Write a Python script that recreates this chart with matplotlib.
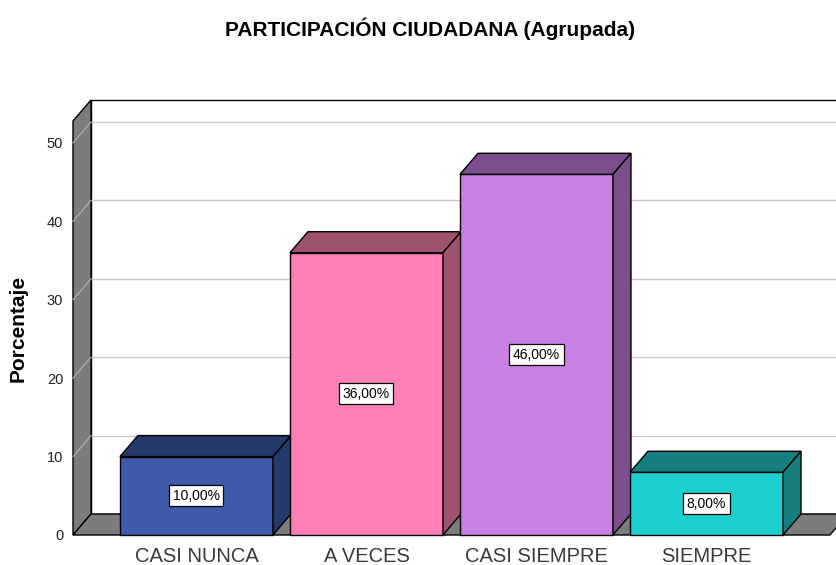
import matplotlib
matplotlib.use('Agg')
import matplotlib.pyplot as plt
from matplotlib.patches import Polygon

plt.rcParams['font.family'] = ['Liberation Sans', 'DejaVu Sans']

# Data
categories = ['CASI NUNCA', 'A VECES', 'CASI SIEMPRE', 'SIEMPRE']
percentages = [10.0, 36.0, 46.0, 8.0]
labels = ['10,00%', '36,00%', '46,00%', '8,00%']
front_colors = ['#3E5BA9', '#FF80B5', '#C880E3', '#1DCFCF']
dark_colors = ['#26396B', '#9E526E', '#7B4F8C', '#147F7E']
y_ticks = [0, 10, 20, 30, 40, 50]

# 3D look: depth offsets in data units
du = 0.106
dv = 2.68
bar_w = 0.9
x0, x1 = -0.726, 3.726
ymax = 52.8
wall_gray = '#7C7C7C'


# Draw one 3D box (front, top and side faces)
def draw_box(ax, xc, val, front, dark):
    xl, xr = xc - bar_w / 2, xc + bar_w / 2
    faces = [
        ([(xl, 0), (xr, 0), (xr, val), (xl, val)], front),
        ([(xl, val), (xr, val), (xr + du, val + dv), (xl + du, val + dv)], dark),
        ([(xr, 0), (xr + du, dv), (xr + du, val + dv), (xr, val)], dark),
    ]
    for pts, col in faces:
        ax.add_patch(Polygon(pts, closed=True, facecolor=col, edgecolor='black',
                             linewidth=1.0, zorder=5, clip_on=False))


fig = plt.figure(figsize=(8.36, 5.65), dpi=100)
ax = fig.add_axes([73 / 836, 30 / 565, (836 - 73) / 836, (535 - 121) / 565])
ax.set_xlim(x0, (836 - 196.5) / 170)
ax.set_ylim(0, ymax)
for s in ax.spines.values():
    s.set_visible(False)

# back wall
ax.add_patch(Polygon([(x0 + du, dv), (x1 + du, dv), (x1 + du, ymax + dv), (x0 + du, ymax + dv)],
                     closed=True, facecolor='white', edgecolor='black', linewidth=1.0,
                     zorder=0, clip_on=False))
# gridlines on back wall and left wall
for t in y_ticks[1:]:
    ax.plot([x0 + du, x1 + du], [t + dv, t + dv], color='#C8C8C8', lw=1.0, zorder=1, clip_on=False)
# left wall
ax.add_patch(Polygon([(x0, 0), (x0 + du, dv), (x0 + du, ymax + dv), (x0, ymax)],
                     closed=True, facecolor=wall_gray, edgecolor='black', linewidth=1.0,
                     zorder=2, clip_on=False))
for t in y_ticks[1:]:
    ax.plot([x0, x0 + du], [t, t + dv], color='#B4B4B4', lw=0.8, zorder=3, clip_on=False)
# floor
ax.add_patch(Polygon([(x0, 0), (x1, 0), (x1 + du, dv), (x0 + du, dv)],
                     closed=True, facecolor=wall_gray, edgecolor='black', linewidth=1.0,
                     zorder=2, clip_on=False))

# bars
for i, val in enumerate(percentages):
    draw_box(ax, i, val, front_colors[i], dark_colors[i])
    ax.text(i, val / 2, labels[i], ha='center', va='center', fontsize=10, zorder=6,
            bbox=dict(boxstyle='square,pad=0.25', facecolor='white', edgecolor='black', linewidth=0.9))

ax.set_yticks(y_ticks)
ax.set_yticklabels([str(t) for t in y_ticks], fontsize=10.5, color='#222222')
ax.set_xticks(range(len(categories)))
ax.set_xticklabels(categories, fontsize=14.5, color='#3A3A3A')
ax.tick_params(axis='y', length=0, pad=7)
ax.tick_params(axis='x', length=0, pad=9)

ax.set_ylabel('Porcentaje', fontsize=15, fontweight='bold')
ax.yaxis.set_label_coords(-(73 - 28) / 763, 0.5)

fig.text(430 / 836, 1 - 29 / 565, 'PARTICIPACIÓN CIUDADANA (Agrupada)', ha='center', va='center',
         fontsize=15, fontweight='bold')

fig.savefig('out.png', dpi=100)
